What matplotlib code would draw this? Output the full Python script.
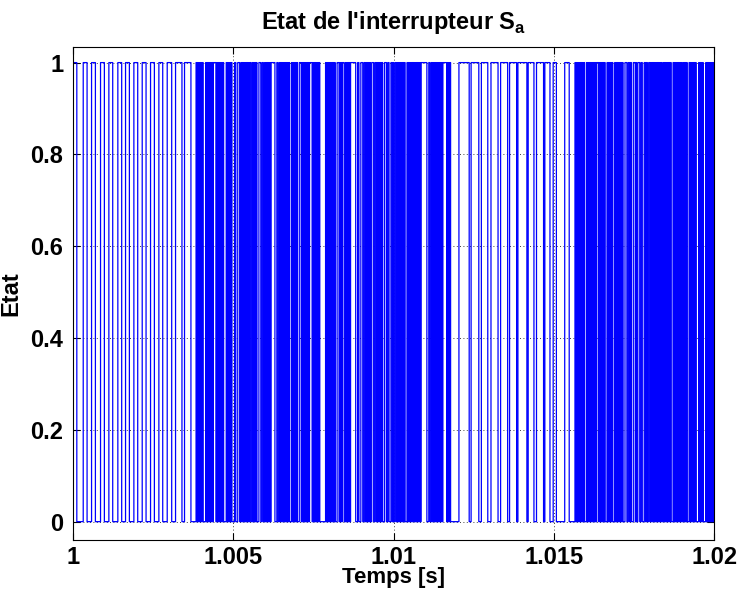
import matplotlib
matplotlib.use("Agg")
import numpy as np
import matplotlib.pyplot as plt

plt.rcParams["font.family"] = ["Liberation Sans", "DejaVu Sans"]
plt.rcParams["font.weight"] = "bold"
plt.rcParams["mathtext.fontset"] = "custom"
plt.rcParams["mathtext.rm"] = "Liberation Sans:bold"
plt.rcParams["mathtext.bf"] = "Liberation Sans:bold"

# Switch state Sa, one string per millisecond, one character per 20 us sample
t_start = 1.0
sample_time = 2e-5
samples_per_ms = 50
state_bits = [
    "111111 0000000000 111111 0000000 111111 00000000 111111 0",
    "000000 111111 00000000 111111 000000 111111 0000000 11111",
    "1 0000000 111111 0000000 111111 0000000 111111 0000000 111",
    "1111 000000 1111111111 0000 1111111111 00000000 10101010",
    "101 0000 101010101010 1111 0101010101010 000 101010101 00",
    "00 11000111001 0101010101010 1100 1010101 000111001100 1",
    "0101010101 11111 00011001 101010101010101 000 101010101",
    "000111 01010101010101 111 010101010101 000000000 101010",
    "1010101010 00111 010101 1100 10101010 11111111 000110001",
    "110011 01010101 00111001 10101010101 00011100110001 101",
    "00110 1010101010101 000 10101010101010101010101 111111",
    "11 00011001 01010101010101010 111111 0101010 0000000000",
    "00 1111111111111111 000 111111111111 0000 1111111111 000",
    "00 11111111111 0000 11111111111 000 11111111111 00 111111",
    "11111111 00 111111111 0000 11111111111 00 11111111 00000 1",
    "1111 0000000000000 1111111 000000000 101010101010101 00",
    "0 1010101010101010 111 0101010101 000 101010101 000 10101",
    "01010101 0001110011 0110001110 1001110011 0001101100 11",
    "010 1010101010101010 0 10101010101010 00 10101010101010",
    "0 1010101 000 101010101010 000 10101010 000 1010101010101",
]

x_ticks = [1.0, 1.005, 1.01, 1.015, 1.02]
x_tick_labels = ["1", "1.005", "1.01", "1.015", "1.02"]
y_ticks = [0, 0.2, 0.4, 0.6, 0.8, 1.0]
y_tick_labels = ["0", "0.2", "0.4", "0.6", "0.8", "1"]

times = []
values = []
for k, row in enumerate(state_bits):
    bits = row.replace(" ", "")[:samples_per_ms]
    for i, c in enumerate(bits):
        times.append(t_start + k * 1e-3 + i * sample_time)
        values.append(int(c))
times.append(t_start + len(state_bits) * 1e-3)
values.append(values[-1])
times = np.array(times)
values = np.array(values)

fig = plt.figure(figsize=(7.4, 5.94), dpi=100)
ax = fig.add_axes([0.0986, 0.0909, 0.8664, 0.830])

ax.plot(times, values, drawstyle="steps-post", color="#0000ff", lw=0.9)

ax.set_xlim(1.0, 1.02)
ax.set_ylim(-0.04, 1.034)
ax.set_xticks(x_ticks)
ax.set_xticklabels(x_tick_labels)
ax.set_yticks(y_ticks)
ax.set_yticklabels(y_tick_labels)

ax.set_axisbelow(True)
ax.grid(True, linestyle=(0, (1, 3)), color="black", linewidth=0.6)
ax.tick_params(direction="in", length=5, width=0.8, top=True, right=True,
               labelsize=17)
ax.tick_params(axis="x", pad=4)
ax.tick_params(axis="y", pad=7)
for s in ax.spines.values():
    s.set_linewidth(0.8)
    s.set_color("black")

ax.set_xlabel("Temps [s]", fontsize=16, fontweight="bold", labelpad=-1)
ax.set_ylabel("Etat", fontsize=17, fontweight="bold", labelpad=6)
ax.set_title(r"Etat de l'interrupteur S$_\mathrm{a}$", fontsize=17,
             fontweight="bold", pad=13)

fig.savefig("out.png", dpi=100)
